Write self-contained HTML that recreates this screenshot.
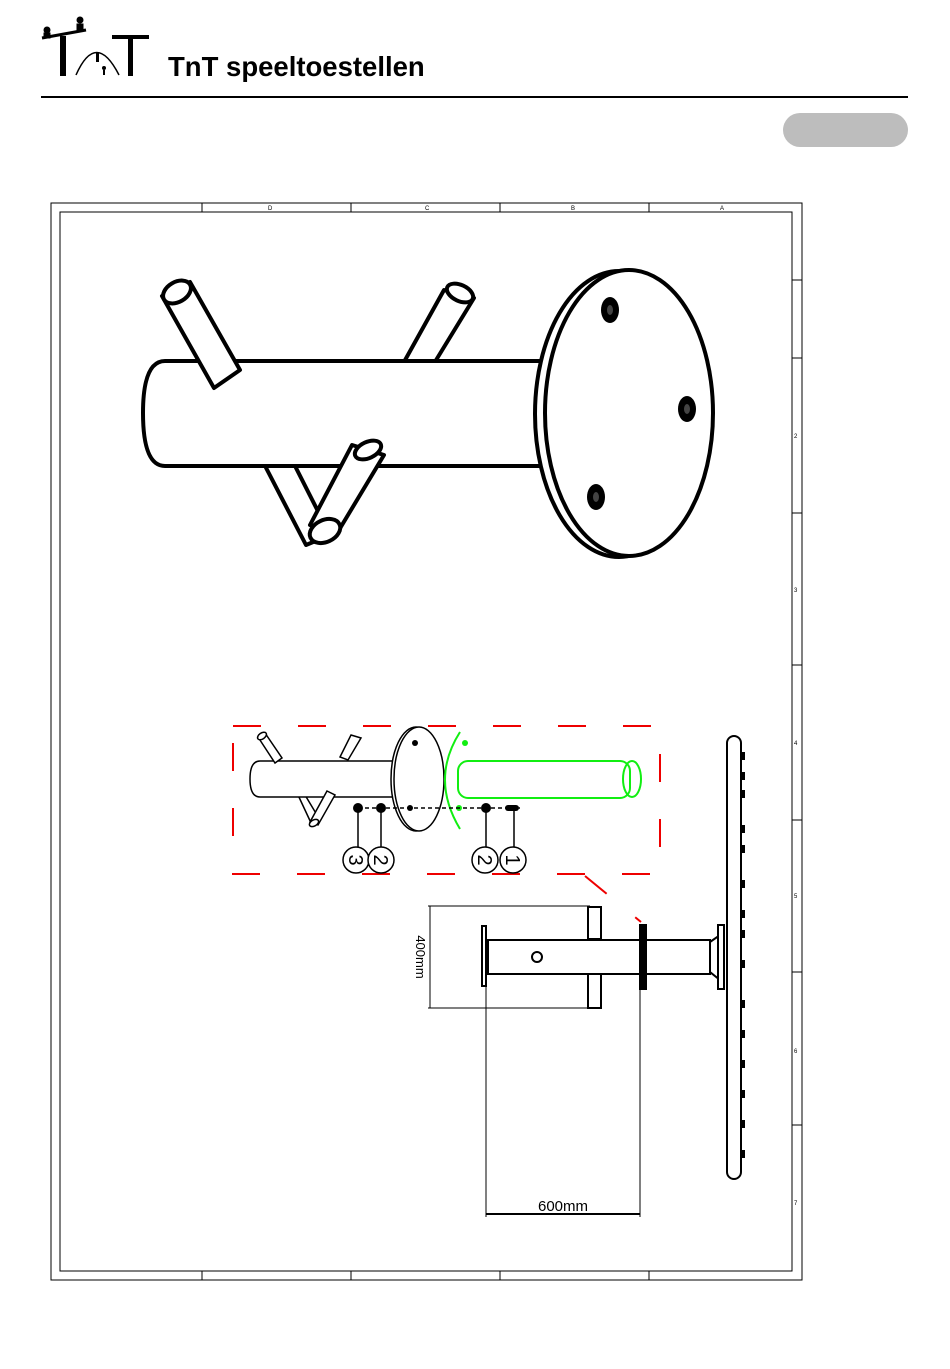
<!DOCTYPE html>
<html><head><meta charset="utf-8"><style>
html,body{margin:0;padding:0;background:#fff;}
body{width:950px;height:1369px;position:relative;overflow:hidden;font-family:"Liberation Sans",sans-serif;}
</style></head><body>
<svg width="950" height="1369" viewBox="0 0 950 1369" xmlns="http://www.w3.org/2000/svg" style="position:absolute;left:0;top:0">
<g fill="#000" stroke="#000">
<line x1="42" y1="38" x2="86" y2="30" stroke-width="3"/>
<circle cx="47" cy="30" r="3"/><rect x="44" y="33" width="6" height="5"/>
<circle cx="80" cy="20" r="3"/><rect x="77" y="24" width="6" height="6"/>
<rect x="60" y="36" width="6" height="40" stroke="none"/>
<rect x="112" y="35" width="37" height="4" stroke="none"/>
<rect x="128" y="35" width="5" height="41" stroke="none"/>
<path d="M76 75 Q 96 30 119 75" fill="none" stroke-width="1.5"/>
<rect x="96" y="52" width="3" height="10" stroke="none"/>
<circle cx="104" cy="68" r="1.5"/><rect x="103" y="70" width="2" height="5" stroke="none"/>
</g>
<text x="168" y="76" font-size="27.5" font-weight="bold" fill="#000">TnT speeltoestellen</text>
<line x1="41" y1="97" x2="908" y2="97" stroke="#000" stroke-width="2"/>
<rect x="783" y="113" width="125" height="34" rx="17" fill="#bdbdbd"/>

<g fill="none" stroke="#000" stroke-width="1">
<rect x="51" y="203" width="751" height="1077"/>
<rect x="60" y="212" width="732" height="1059"/>
<line x1="202" y1="203" x2="202" y2="212"/><line x1="351" y1="203" x2="351" y2="212"/>
<line x1="500" y1="203" x2="500" y2="212"/><line x1="649" y1="203" x2="649" y2="212"/>
<line x1="202" y1="1271" x2="202" y2="1280"/><line x1="351" y1="1271" x2="351" y2="1280"/>
<line x1="500" y1="1271" x2="500" y2="1280"/><line x1="649" y1="1271" x2="649" y2="1280"/>
<line x1="792" y1="280" x2="802" y2="280"/><line x1="792" y1="358" x2="802" y2="358"/>
<line x1="792" y1="513" x2="802" y2="513"/><line x1="792" y1="665" x2="802" y2="665"/>
<line x1="792" y1="820" x2="802" y2="820"/><line x1="792" y1="972" x2="802" y2="972"/>
<line x1="792" y1="1125" x2="802" y2="1125"/>
</g>
<g font-size="6" fill="#000">
<text x="268" y="210">D</text><text x="425" y="210">C</text><text x="571" y="210">B</text><text x="720" y="210">A</text>
<text x="794" y="438">2</text><text x="794" y="592">3</text><text x="794" y="745">4</text><text x="794" y="898">5</text><text x="794" y="1053">6</text><text x="794" y="1205">7</text>
</g>

<g fill="#fff" stroke="#000" stroke-width="4" stroke-linejoin="round">
<path d="M444 290 L474 298 L430 370 L404 362 Z"/>
<ellipse cx="460" cy="293" rx="14" ry="8" transform="rotate(25 460 293)"/>
<path d="M262 460 L306 545 L330 535 L292 460 Z"/>
<path d="M548 361 L165 361 Q143 361 143 413 Q143 466 165 466 L548 466 Z"/>
<path d="M162 296 L190 282 L240 370 L214 388 Z"/>
<ellipse cx="177" cy="292" rx="15" ry="10" transform="rotate(-30 177 292)"/>
<path d="M352 445 L384 455 L336 535 L310 525 Z"/>
<ellipse cx="325" cy="531" rx="16" ry="11" transform="rotate(-25 325 531)"/>
<ellipse cx="368" cy="450" rx="14" ry="8" transform="rotate(-25 368 450)"/>
<ellipse cx="619" cy="414" rx="84" ry="143"/>
<ellipse cx="629" cy="413" rx="84" ry="143"/>
</g>
<g fill="#000">
<ellipse cx="610" cy="310" rx="9" ry="13"/><ellipse cx="687" cy="409" rx="9" ry="13"/><ellipse cx="596" cy="497" rx="9" ry="13"/>
</g>
<g fill="#444"><ellipse cx="610" cy="310" rx="3" ry="5"/><ellipse cx="687" cy="409" rx="3" ry="5"/><ellipse cx="596" cy="497" rx="3" ry="5"/></g>

<g fill="none" stroke="#e00" stroke-width="2" stroke-dasharray="28,37">
<rect x="233" y="726" width="427" height="148"/>
<line x1="585" y1="876" x2="641" y2="922"/>
</g>

<g fill="#fff" stroke="#000" stroke-width="1.5">
<path d="M351 735 L361 738 L348 760 L340 757 Z"/>
<path d="M298 795 L312 825 L320 820 L305 795 Z"/>
<path d="M395 761 L260 761 Q250 761 250 779 Q250 797 260 797 L395 797 Z"/>
<path d="M258 737 L265 733 L282 758 L275 763 Z"/>
<ellipse cx="262" cy="736" rx="5" ry="3" transform="rotate(-35 262 736)"/>
<path d="M327 791 L335 795 L318 825 L310 822 Z"/>
<ellipse cx="314" cy="823" rx="5" ry="3" transform="rotate(-30 314 823)"/>
<ellipse cx="416" cy="779" rx="25" ry="52"/>
<ellipse cx="419" cy="779" rx="25" ry="52"/>
</g>
<g fill="#000"><circle cx="415" cy="743" r="3"/><circle cx="410" cy="808" r="3"/></g>
<g fill="none" stroke="#1e1" stroke-width="2">
<path d="M460 732 Q430 779 460 829"/>
<rect x="458" y="761" width="172" height="37" rx="10"/>
<ellipse cx="632" cy="779" rx="9" ry="18"/>
</g>
<circle cx="465" cy="743" r="3" fill="#1e1"/><circle cx="459" cy="808" r="3" fill="#1e1"/>
<line x1="358" y1="808" x2="520" y2="808" stroke="#000" stroke-width="1.5" stroke-dasharray="4,3"/>
<g fill="#000"><circle cx="358" cy="808" r="5"/><circle cx="381" cy="808" r="5"/><circle cx="486" cy="808" r="5"/><rect x="505" y="805" width="14" height="6" rx="3"/></g>
<g stroke="#000" stroke-width="1.5" fill="#fff">
<line x1="358" y1="808" x2="358" y2="848"/><line x1="381" y1="808" x2="381" y2="848"/>
<line x1="486" y1="808" x2="486" y2="848"/><line x1="514" y1="808" x2="514" y2="848"/>
<circle cx="356" cy="860" r="13"/><circle cx="381" cy="860" r="13"/><circle cx="485" cy="860" r="13"/><circle cx="513" cy="860" r="13"/>
</g>
<g font-size="20" fill="#000" text-anchor="middle">
<text transform="translate(356 860) rotate(90)" y="7">3</text>
<text transform="translate(381 860) rotate(90)" y="7">2</text>
<text transform="translate(485 860) rotate(90)" y="7">2</text>
<text transform="translate(513 860) rotate(90)" y="7">1</text>
</g>

<g fill="#fff" stroke="#000" stroke-width="2">
<rect x="488" y="940" width="222" height="34"/>
<rect x="588" y="907" width="13" height="32"/>
<rect x="588" y="974" width="13" height="34"/>
<rect x="482" y="926" width="4" height="60"/>
<rect x="640" y="925" width="6" height="64" fill="#000"/>
<path d="M710 942 L720 935 L720 980 L710 972 Z"/>
<rect x="718" y="925" width="6" height="64"/>
<rect x="727" y="736" width="14" height="443" rx="7"/>
<circle cx="537" cy="957" r="5"/>
</g>
<g fill="#000">
<rect x="741" y="752" width="4" height="8"/><rect x="741" y="772" width="4" height="8"/><rect x="741" y="790" width="4" height="8"/><rect x="741" y="825" width="4" height="8"/><rect x="741" y="845" width="4" height="8"/><rect x="741" y="880" width="4" height="8"/><rect x="741" y="910" width="4" height="8"/><rect x="741" y="930" width="4" height="8"/><rect x="741" y="960" width="4" height="8"/><rect x="741" y="1000" width="4" height="8"/><rect x="741" y="1030" width="4" height="8"/><rect x="741" y="1060" width="4" height="8"/><rect x="741" y="1090" width="4" height="8"/><rect x="741" y="1120" width="4" height="8"/><rect x="741" y="1150" width="4" height="8"/>
</g>
<g stroke="#000" stroke-width="1" fill="none">
<line x1="428" y1="906" x2="590" y2="906"/><line x1="428" y1="1008" x2="590" y2="1008"/>
<line x1="430" y1="906" x2="430" y2="1008"/>
<line x1="486" y1="986" x2="486" y2="1217"/><line x1="640" y1="989" x2="640" y2="1217"/>
<line x1="486" y1="1214" x2="640" y2="1214" stroke-width="2"/>
</g>
<text transform="translate(416 957) rotate(90)" font-size="13" text-anchor="middle" fill="#000">400mm</text>
<text x="563" y="1211" font-size="15" text-anchor="middle" fill="#000">600mm</text>
</svg>
</body></html>
